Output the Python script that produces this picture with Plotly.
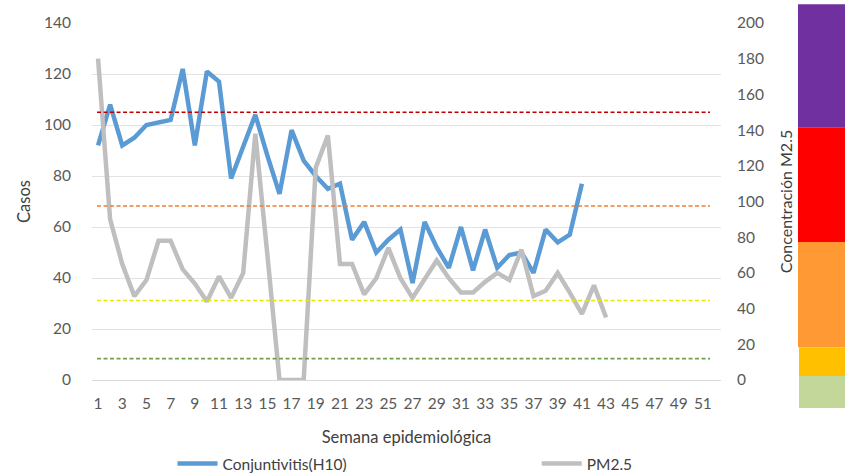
import plotly.graph_objects as go

weeks_cases = list(range(1, 42))
cases = [92, 108, 92, 95, 100, 101, 102, 122, 92, 121, 117, 79, 91, 104, 88, 73,
         98, 86, 80, 75, 77, 55, 62, 50, 55, 59, 38, 62, 52, 44, 60, 43, 59, 44,
         49, 50, 42, 59, 54, 57, 77]

weeks_pm = list(range(1, 44))
pm25 = [180, 90, 65, 47, 56, 78, 78, 62, 54, 44, 58, 46, 60, 138, 70, 0, 0, 0,
        119, 137, 65, 65, 48, 57, 74, 57, 46, 57, 67, 57, 49, 49, 55, 60, 56, 73,
        47, 50, 60, 49, 37, 53, 35]

thresholds = [150, 97.5, 44.5, 12]
threshold_colors = ["#C00000", "#ED7D31", "#E8E800", "#70A050"]

FONT = "Lato"
TXT = "#595959"

fig = go.Figure()
fig.add_trace(go.Scatter(x=weeks_pm, y=pm25, yaxis="y2", mode="lines", name="PM2.5",
                         line=dict(color="#BFBFBF", width=4.5), legend="legend2"))
fig.add_trace(go.Scatter(x=weeks_cases, y=cases, mode="lines", name="Conjuntivitis(H10)",
                         line=dict(color="#5B9BD5", width=4.5), legend="legend"))

for v, c in zip(thresholds, threshold_colors):
    fig.add_shape(type="line", xref="paper", yref="y2", x0=0.008, x1=0.9825, y0=v, y1=v,
                  line=dict(color=c, width=1.6, dash="4px,2.5px"))

# colour scale bar at right
bands = [(1.0524, 0.7078, "#7030A0", 1.1224), (0.7078, 0.3866, "#FF0000", 1.1224),
         (0.3866, 0.0916, "#FF9933", 1.1224), (0.0916, 0.0112, "#FFC000", 1.124),
         (0.0112, -0.0784, "#C4D79B", 1.124)]
for y1, y0, c, x0 in bands:
    fig.add_shape(type="rect", xref="paper", yref="paper", x0=x0, x1=1.2, y0=y0, y1=y1,
                  fillcolor=c, line=dict(width=0), layer="below")

leg_common = dict(orientation="h", xanchor="left", y=-0.235, yanchor="middle",
                  font=dict(size=15.5, color="#404040"), itemwidth=40,
                  bgcolor="rgba(0,0,0,0)")

fig.update_layout(
    width=845, height=474,
    margin=dict(l=92, r=124, t=23, b=94, pad=0, autoexpand=False),
    paper_bgcolor="white", plot_bgcolor="white",
    font=dict(family=FONT, size=15, color=TXT),
    showlegend=True,
    legend=dict(x=0.128, **leg_common),
    legend2=dict(x=0.707, **leg_common),
    xaxis=dict(range=[0.5, 52.5], tick0=1, dtick=2, showgrid=False, zeroline=False,
               showline=False, ticks="", ticklabelstandoff=12, automargin=False,
               tickfont=dict(size=15.5, color=TXT),
               title=dict(text="Semana epidemiológica", standoff=20,
                          font=dict(size=16.5, color="#404040"))),
    yaxis=dict(range=[0, 140], dtick=20, showgrid=True, gridcolor="#E3E3E3", gridwidth=1,
               zeroline=True, zerolinecolor="#D9D9D9", zerolinewidth=1, automargin=False,
               ticks="", ticklabelstandoff=20, tickfont=dict(size=15.5, color=TXT),
               title=dict(text="Casos", standoff=9, font=dict(size=16.5, color="#404040"))),
    yaxis2=dict(range=[0, 200], dtick=20, overlaying="y", side="right", showgrid=False,
                zeroline=False, ticks="", ticklabelstandoff=15, automargin=False,
                tickfont=dict(size=15.5, color=TXT),
                title=dict(text="Concentración M2.5", standoff=17,
                           font=dict(size=16, color="#404040"))),
)

fig.write_html("out.html", config={"displayModeBar": False},
               post_script="document.body.style.margin='0px';")
